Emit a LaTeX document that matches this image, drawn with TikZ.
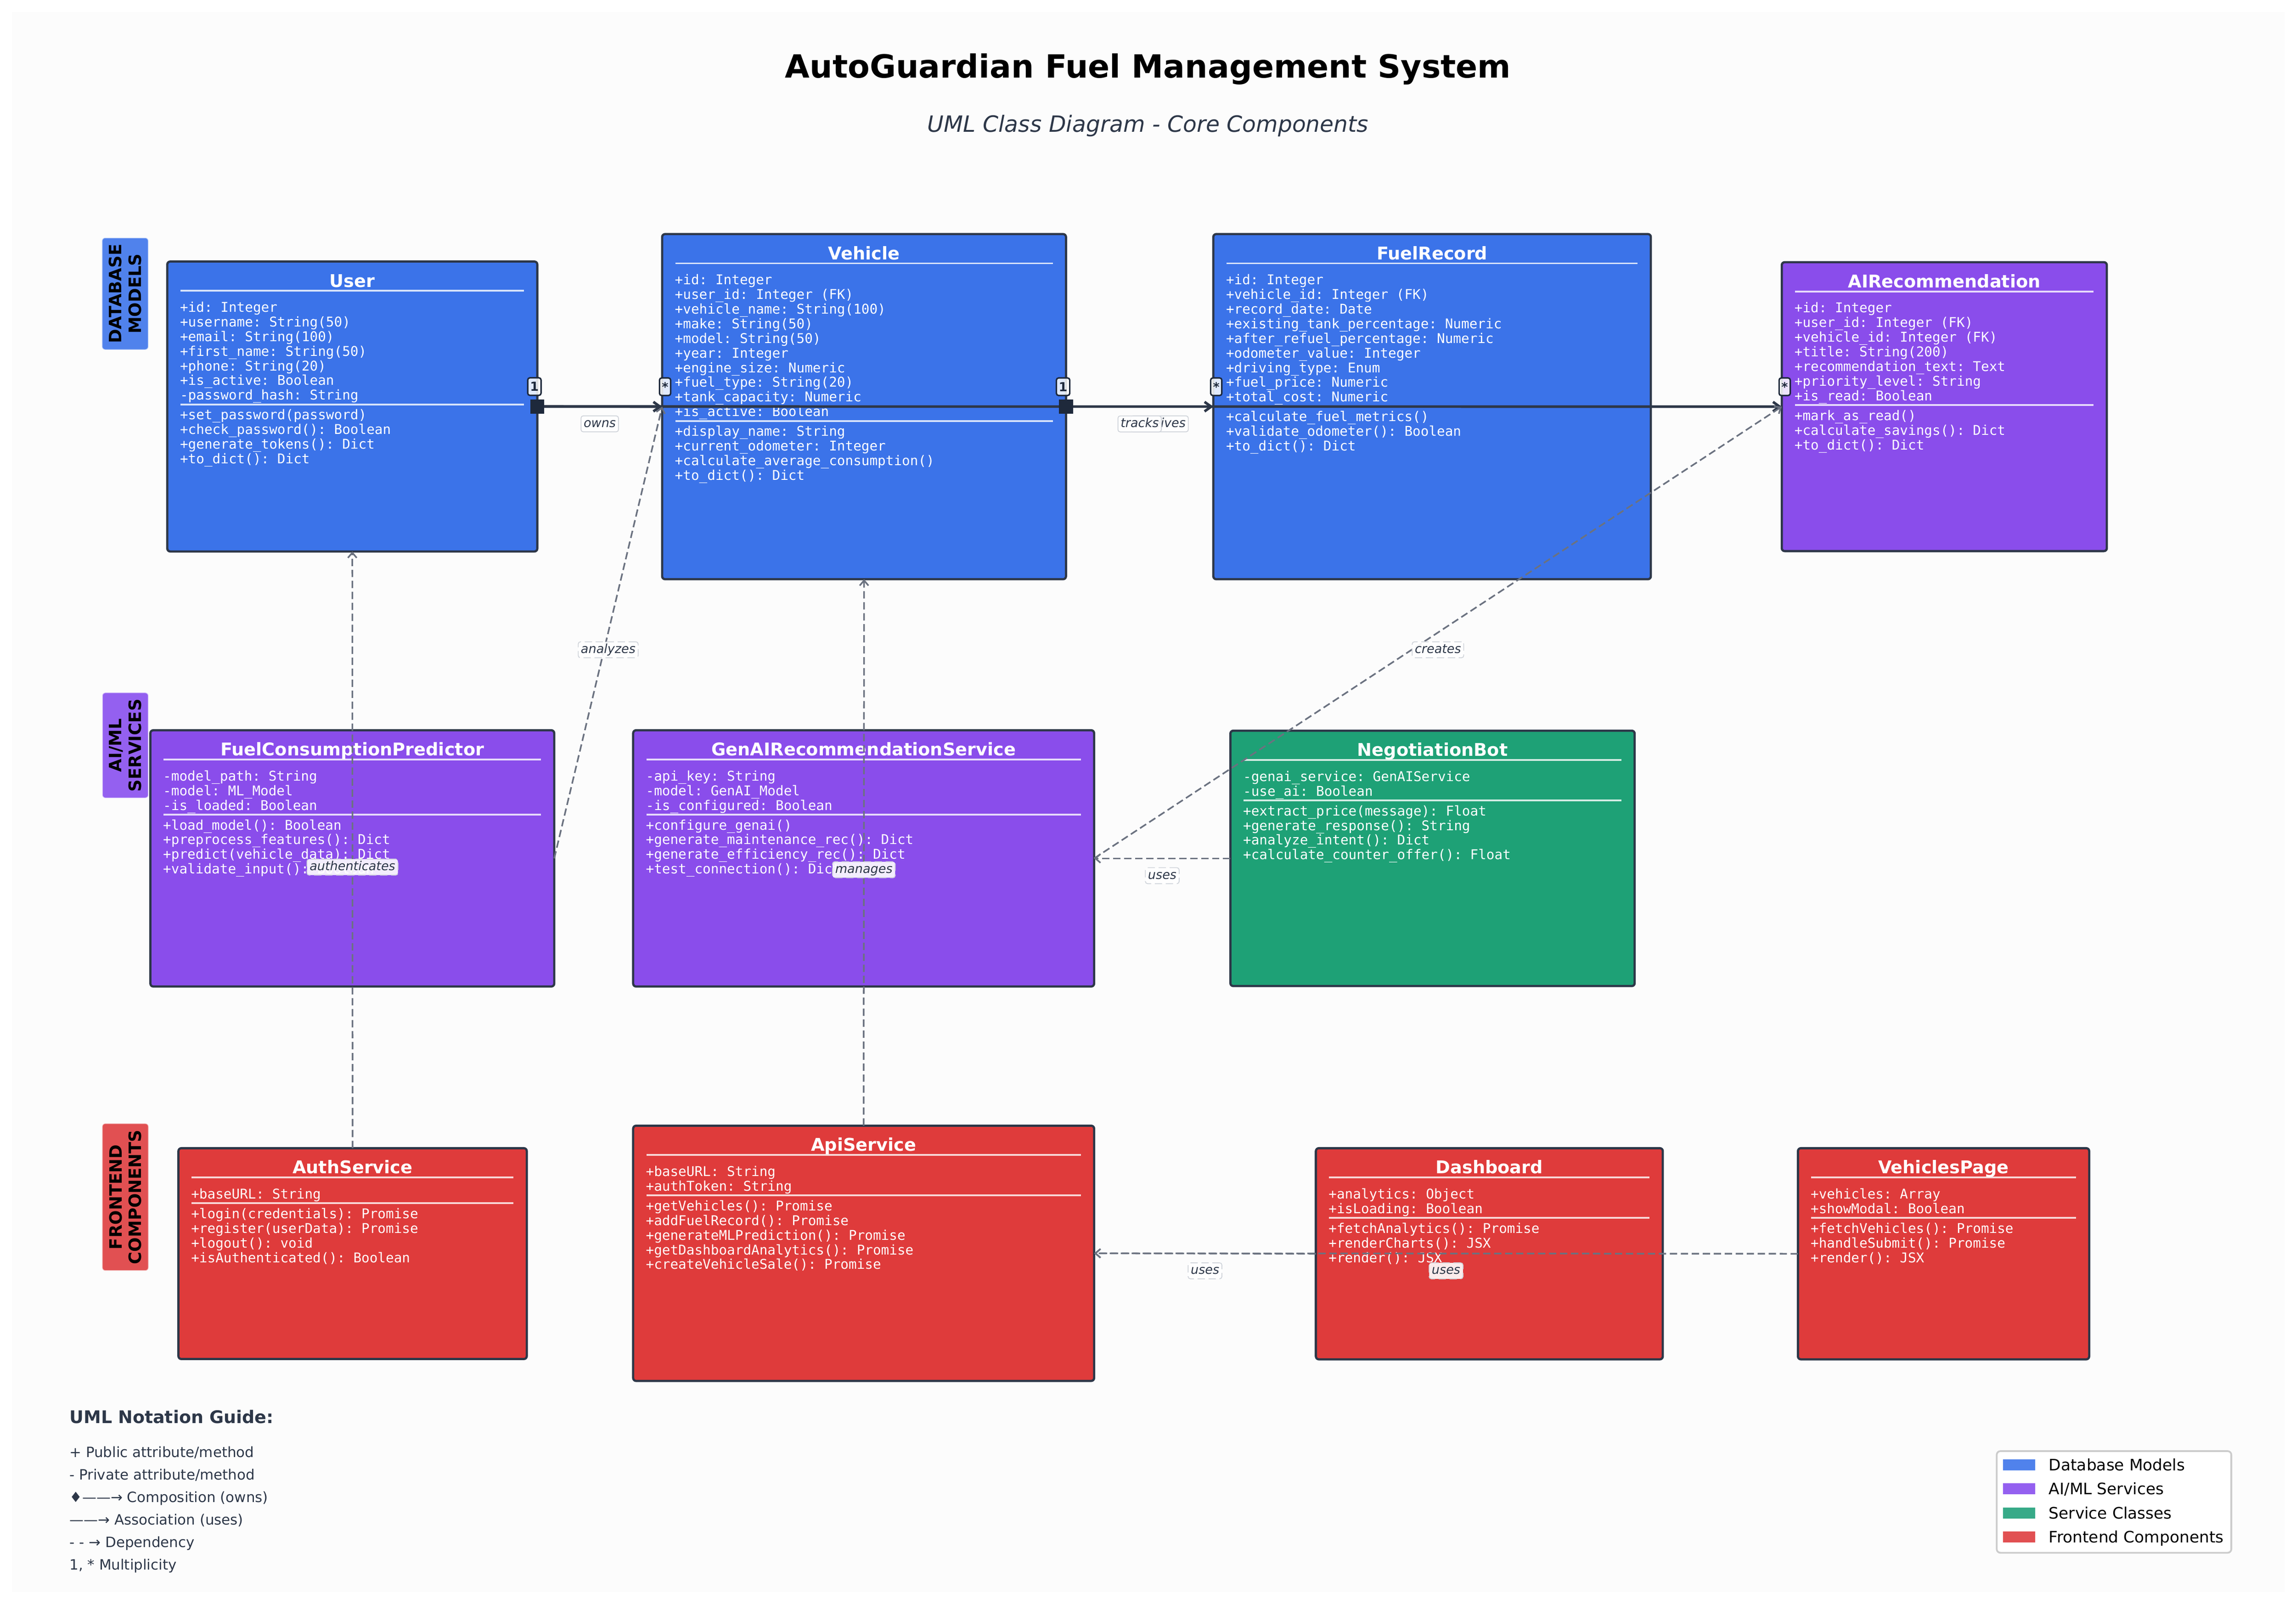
\documentclass[tikz,border=0pt]{standalone}
\usepackage{fontspec}
\setmainfont{DejaVu Sans}
\setmonofont{DejaVu Sans Mono}
\usetikzlibrary{arrows.meta,calc}
\definecolor{slate}{HTML}{2D3748}
\definecolor{ink}{HTML}{1E293B}
\definecolor{depgray}{HTML}{6B7280}
\definecolor{labgray}{HTML}{D1D5DB}
\definecolor{paper}{HTML}{FCFCFC}
\definecolor{dbblue}{RGB}{59,115,233}
\definecolor{aipurple}{RGB}{138,77,235}
\definecolor{svcgreen}{RGB}{30,161,118}
\definecolor{fered}{RGB}{223,59,59}
\definecolor{dbbluel}{RGB}{80,130,236}
\definecolor{aipurplel}{RGB}{148,96,240}
\definecolor{svcgreenl}{RGB}{55,170,136}
\definecolor{feredl}{RGB}{225,80,82}
\tikzstyle{clsbox}=[draw=slate,line width=1.5pt,rounded corners=2pt,inner sep=0pt,outer sep=0pt]
\tikzstyle{clstitle}=[text=white,font=\bfseries\fontsize{12}{14}\selectfont,inner sep=0pt,anchor=base]
\tikzstyle{member}=[text=white,font=\ttfamily\fontsize{9.2}{10}\selectfont,inner sep=0pt,anchor=base west]
\tikzstyle{sepline}=[draw=white,draw opacity=0.8,line width=1.2pt]
\tikzstyle{assoc}=[draw=slate,line width=1.75pt,-{Straight Barb[length=4.5pt,width=6.5pt]}]
\tikzstyle{dep}=[draw=depgray,line width=1.1pt,dash pattern=on 5pt off 2.5pt,-{Straight Barb[length=3.5pt,width=6pt]}]
\tikzstyle{compsq}=[fill=ink,minimum size=9.6pt,inner sep=0pt]
\tikzstyle{mult}=[fill=white,fill opacity=0.85,text opacity=1,draw=ink,line width=1pt,
  rounded corners=1.5pt,font=\bfseries\fontsize{8.5}{10}\selectfont,text=ink,
  inner xsep=1.6pt,inner ysep=0pt,minimum height=12pt]
\tikzstyle{elabel}=[fill=white,fill opacity=0.9,text opacity=1,draw=labgray,line width=0.6pt,
  rounded corners=1.5pt,font=\itshape\fontsize{8.5}{10}\selectfont,text=slate,
  inner xsep=1.8pt,inner ysep=1.2pt,text height=6.6pt,text depth=1.9pt]
\tikzstyle{seclabel}=[rotate=90,align=center,font=\bfseries\fontsize{11.6}{13.4}\selectfont,
  text=black,rounded corners=2.2pt,draw=white,draw opacity=0.6,line width=0.8pt,
  inner xsep=4.4pt,inner ysep=4.8pt]
\tikzstyle{legtext}=[anchor=base west,inner sep=0pt,font=\fontsize{10.8}{12}\selectfont]
\tikzstyle{guidetext}=[anchor=base west,inner sep=0pt,text=slate,font=\fontsize{9.7}{11}\selectfont]
% name, centre, width, height, colour, title, attributes, methods
\newcommand\umlclass[8]{%
  \node[clsbox,fill=#5,minimum width=#3,minimum height=#4] (#1) at (#2) {};
  \node[clstitle] (#1-name) at ($(#1.north)+(0,17.4)$) {#6};
  \draw[sepline] ($(#1.north west)+(9,20)$) -- ($(#1.north east)+(-9,20)$);
  \foreach \attr [count=\i] in {#7}
    {\node[member] (#1-a\i) at ($(#1.north west)+(8.5,24.5+10*\i)$) {\attr};
     \xdef\nattr{\i}}
  \draw[sepline] ($(#1.north west)+(9,27.6+10*\nattr)$) -- ($(#1.north east)+(-9,27.6+10*\nattr)$);
  \foreach \meth [count=\j] in {#8}
    {\node[member] (#1-m\j) at ($(#1.north west)+(8.5,28+10*\nattr+10*\j)$) {\meth};}
}

\begin{document}
\begin{tikzpicture}[x=1pt,y=-1pt]
  \fill[white] (0,0) rectangle (1568,1095.3);
  \fill[paper] (8,8) rectangle (1560,1087.3);
  \useasboundingbox (0,0) rectangle (1568,1095.3);

  \node[font=\bfseries\fontsize{21.8}{26}\selectfont,anchor=base] (title) at (784,53)
    {AutoGuardian Fuel Management System};
  \node[font=\itshape\fontsize{15.3}{18}\selectfont,text=slate,anchor=base] (subtitle) at (784,90)
    {UML Class Diagram - Core Components};

  \node[seclabel,fill=dbbluel] (sec-db) at (85.5,200.6) {DATABASE\\MODELS};
  \node[seclabel,fill=aipurplel] (sec-ai) at (85.6,509) {AI/ML\\SERVICES};
  \node[seclabel,fill=feredl] (sec-fe) at (85.6,817.5) {FRONTEND\\COMPONENTS};

  \umlclass{user}{240.6,277.6}{252.7}{198}{dbblue}{User}
    {+id: Integer, +username: String(50), +email: String(100), +first\_name: String(50),
     +phone: String(20), +is\_active: Boolean, -password\_hash: String}
    {+set\_password(password), +check\_password(): Boolean, +generate\_tokens(): Dict, +to\_dict(): Dict}
  \umlclass{vehicle}{590.1,277.7}{275.8}{235.7}{dbblue}{Vehicle}
    {+id: Integer, +user\_id: Integer (FK), +vehicle\_name: String(100), +make: String(50),
     +model: String(50), +year: Integer, +engine\_size: Numeric, +fuel\_type: String(20),
     +tank\_capacity: Numeric, +is\_active: Boolean}
    {+display\_name: String, +current\_odometer: Integer, +calculate\_average\_consumption(), +to\_dict(): Dict}
  \umlclass{fuelrec}{978,277.7}{298.8}{235.7}{dbblue}{FuelRecord}
    {+id: Integer, +vehicle\_id: Integer (FK), +record\_date: Date, +existing\_tank\_percentage: Numeric,
     +after\_refuel\_percentage: Numeric, +odometer\_value: Integer, +driving\_type: Enum,
     +fuel\_price: Numeric, +total\_cost: Numeric}
    {+calculate\_fuel\_metrics(), +validate\_odometer(): Boolean, +to\_dict(): Dict}
  \umlclass{airec}{1327.8,277.7}{222}{197.3}{aipurple}{AIRecommendation}
    {+id: Integer, +user\_id: Integer (FK), +vehicle\_id: Integer (FK), +title: String(200),
     +recommendation\_text: Text, +priority\_level: String, +is\_read: Boolean}
    {+mark\_as\_read(), +calculate\_savings(): Dict, +to\_dict(): Dict}

  \umlclass{predictor}{240.6,586.2}{275.8}{175}{aipurple}{FuelConsumptionPredictor}
    {-model\_path: String, -model: ML\_Model, -is\_loaded: Boolean}
    {+load\_model(): Boolean, +preprocess\_features(): Dict, +predict(vehicle\_data): Dict, +validate\_input(): Boolean}
  \umlclass{genai}{589.8,586.2}{314.8}{175}{aipurple}{GenAIRecommendationService}
    {-api\_key: String, -model: GenAI\_Model, -is\_configured: Boolean}
    {+configure\_genai(), +generate\_maintenance\_rec(): Dict, +generate\_efficiency\_rec(): Dict, +test\_connection(): Dict}
  \umlclass{negbot}{978.3,586.2}{276.1}{174.4}{svcgreen}{NegotiationBot}
    {-genai\_service: GenAIService, -use\_ai: Boolean}
    {+extract\_price(message): Float, +generate\_response(): String, +analyze\_intent(): Dict, +calculate\_counter\_offer(): Float}

  \umlclass{auth}{240.8,856.1}{237.9}{144}{fered}{AuthService}
    {+baseURL: String}
    {+login(credentials): Promise, +register(userData): Promise, +logout(): void, +isAuthenticated(): Boolean}
  \umlclass{api}{589.8,855.9}{314.8}{174.3}{fered}{ApiService}
    {+baseURL: String, +authToken: String}
    {+getVehicles(): Promise, +addFuelRecord(): Promise, +generateMLPrediction(): Promise,
     +getDashboardAnalytics(): Promise, +createVehicleSale(): Promise}
  \umlclass{dashboard}{1017.1,856.2}{236.9}{144.2}{fered}{Dashboard}
    {+analytics: Object, +isLoading: Boolean}
    {+fetchAnalytics(): Promise, +renderCharts(): JSX, +render(): JSX}
  \umlclass{vpage}{1327.3,856.2}{198.9}{144.2}{fered}{VehiclesPage}
    {+vehicles: Array, +showModal: Boolean}
    {+fetchVehicles(): Promise, +handleSubmit(): Promise, +render(): JSX}

  \draw[assoc] (user.east) -- node[elabel,yshift=-11.8pt] (lbl-recv) {receives} (airec.west);
  \draw[assoc] (user.east) -- node[elabel,yshift=-11.8pt] (lbl-owns) {owns} (vehicle.west);
  \draw[assoc] (vehicle.east) -- node[elabel,yshift=-11.8pt] (lbl-track) {tracks} (fuelrec.west);
  \node[compsq] (sq-user) at (user.east) {};
  \node[compsq] (sq-veh) at (vehicle.east) {};
  \node[mult] (m-user) at ($(user.east)+(-2,-13.6)$) {1};
  \node[mult] (m-vehin) at ($(vehicle.west)+(2,-13.6)$) {*};
  \node[mult] (m-vehout) at ($(vehicle.east)+(-2,-13.6)$) {1};
  \node[mult] (m-fuel) at ($(fuelrec.west)+(2,-13.6)$) {*};
  \node[mult] (m-airec) at ($(airec.west)+(2,-13.6)$) {*};

  \draw[dep] (auth.north) -- node[elabel,yshift=-11.8pt] (lbl-auth) {authenticates} (user.south);
  \draw[dep] (api.north) -- node[elabel,yshift=-11.8pt] (lbl-man) {manages} (vehicle.south);
  \draw[dep] (predictor.east) -- node[elabel,yshift=-11.8pt] (lbl-ana) {analyzes} (vehicle.west);
  \draw[dep] (genai.east) -- node[elabel,yshift=-11.8pt] (lbl-cre) {creates} (airec.west);
  \draw[dep] (negbot.west) -- node[elabel,yshift=-11.8pt] (lbl-nuse) {uses} (genai.east);
  \draw[dep] (dashboard.west) -- node[elabel,yshift=-11.8pt] (lbl-duse) {uses} (api.east);
  \draw[dep] (vpage.west) -- node[elabel,yshift=-11.8pt] (lbl-vuse) {uses} (api.east);

  \node[anchor=base west,inner sep=0pt,text=slate,font=\bfseries\fontsize{11.9}{14}\selectfont]
    (guide) at (47.3,972) {UML Notation Guide:};
  \foreach \g [count=\i] in {{+ Public attribute/method},{- Private attribute/method},
      {♦——→ Composition (owns)},{——→ Association (uses)},{- - → Dependency},{1, * Multiplicity}}
    \node[guidetext] (guide-\i) at (47.3,979.7+15.4*\i) {\g};

  \node[draw=black!20,line width=1.2pt,rounded corners=2.5pt,fill=white,
    minimum width=160.2,minimum height=69.4] (legend) at (1443.7,1025.7) {};
  \foreach \c/\t [count=\i] in {dbbluel/{Database Models},aipurplel/{AI/ML Services},
      svcgreenl/{Service Classes},feredl/{Frontend Components}}
    {\node[fill=\c,minimum width=22,minimum height=7.5,inner sep=0pt] (leg-p\i) at (1378.8,983.85+16.45*\i) {};
     \node[legtext] (leg-t\i) at (1399,987.75+16.45*\i) {\t};}
\end{tikzpicture}
\end{document}
